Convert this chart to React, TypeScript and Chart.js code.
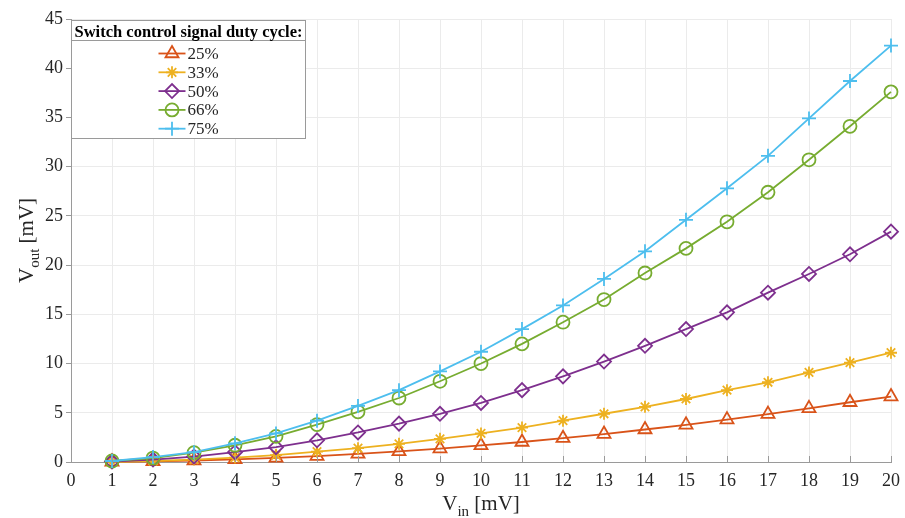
import React, { useEffect, useRef } from 'react';
import { Chart, registerables } from 'chart.js';
import { drawPoint } from 'chart.js/helpers';

Chart.register(...registerables);

const vin = [1, 2, 3, 4, 5, 6, 7, 8, 9, 10, 11, 12, 13, 14, 15, 16, 17, 18, 19, 20];
const duty25 = [0.01, 0.06, 0.15, 0.27, 0.42, 0.6, 0.82, 1.07, 1.36, 1.68, 2.03, 2.42, 2.84, 3.3, 3.78, 4.3, 4.86, 5.45, 6.07, 6.65];
const duty33 = [0.02, 0.1, 0.25, 0.45, 0.7, 1.05, 1.4, 1.85, 2.35, 2.9, 3.5, 4.2, 4.9, 5.6, 6.4, 7.3, 8.1, 9.1, 10.1, 11.1];
const duty50 = [0.05, 0.25, 0.55, 1.0, 1.5, 2.2, 3.0, 3.9, 4.9, 6.0, 7.3, 8.7, 10.2, 11.8, 13.5, 15.2, 17.2, 19.1, 21.1, 23.4];
const duty66 = [0.1, 0.4, 0.95, 1.7, 2.6, 3.8, 5.1, 6.5, 8.2, 10.0, 12.0, 14.2, 16.5, 19.2, 21.7, 24.4, 27.4, 30.7, 34.1, 37.6];
const duty75 = [0.1, 0.5, 1.0, 1.9, 2.9, 4.2, 5.7, 7.3, 9.2, 11.2, 13.5, 15.9, 18.6, 21.4, 24.6, 27.8, 31.1, 34.9, 38.7, 42.3];

const seriesValues = [duty25, duty33, duty50, duty66, duty75];
const seriesLabels = ['25%', '33%', '50%', '66%', '75%'];
const seriesColors = ['#D95319', '#EDB120', '#7E2F8E', '#77AC30', '#4DBEEE'];
const seriesMarkers = ['triangle', 'star', 'rectRot', 'circle', 'cross'];
const seriesMarkerSizes = [7.5, 6, 7, 6.5, 7];

const legendTitle = 'Switch control signal duty cycle:';
const xTitleMain = 'V';
const xTitleSub = 'in';
const yTitleMain = 'V';
const yTitleSub = 'out';
const titleUnit = ' [mV]';

const xMin = 0;
const xMax = 20;
const xStep = 1;
const yMin = 0;
const yMax = 45;
const yStep = 5;

const FONT = '"Liberation Serif", "Times New Roman", serif';
const TEXT = '#262626';
const AXIS = '#9a9a9a';
const GRID = '#ebebeb';

function drawSubTitle(ctx: CanvasRenderingContext2D, main: string, sub: string, rest: string, cx: number, baseline: number) {
  ctx.font = `21px ${FONT}`;
  const wMain = ctx.measureText(main).width;
  const wRest = ctx.measureText(rest).width;
  ctx.font = `15px ${FONT}`;
  const wSub = ctx.measureText(sub).width;
  const total = wMain + wSub + wRest;
  let x = cx - total / 2;
  ctx.textAlign = 'left';
  ctx.textBaseline = 'alphabetic';
  ctx.fillStyle = TEXT;
  ctx.font = `21px ${FONT}`;
  ctx.fillText(main, x, baseline);
  x += wMain;
  ctx.font = `15px ${FONT}`;
  ctx.fillText(sub, x, baseline + 6);
  x += wSub;
  ctx.font = `21px ${FONT}`;
  ctx.fillText(rest, x, baseline);
}

const decorPlugin = {
  id: 'decor',
  afterDraw(chart: any) {
    const ctx: CanvasRenderingContext2D = chart.ctx;
    const { left, right, top, bottom } = chart.chartArea;
    const xs = chart.scales.x;
    ctx.save();
    // inward x ticks
    ctx.strokeStyle = AXIS;
    ctx.lineWidth = 1;
    for (let v = xMin; v <= xMax; v += xStep) {
      const px = Math.round(xs.getPixelForValue(v)) + 0.5;
      ctx.beginPath();
      ctx.moveTo(px, bottom);
      ctx.lineTo(px, bottom - 6);
      ctx.stroke();
    }
    // axis titles
    drawSubTitle(ctx, xTitleMain, xTitleSub, titleUnit, (left + right) / 2, 510);
    ctx.save();
    ctx.translate(33, (top + bottom) / 2);
    ctx.rotate(-Math.PI / 2);
    drawSubTitle(ctx, yTitleMain, yTitleSub, titleUnit, 0, 0);
    ctx.restore();

    // legend
    const x0 = left + 0.5;
    const y0 = top + 1.5;
    const w = 234;
    const h = 118;
    ctx.fillStyle = '#ffffff';
    ctx.fillRect(x0, y0, w, h);
    ctx.strokeStyle = AXIS;
    ctx.lineWidth = 1;
    ctx.strokeRect(x0, y0, w, h);
    ctx.beginPath();
    ctx.moveTo(x0, y0 + 20);
    ctx.lineTo(x0 + w, y0 + 20);
    ctx.stroke();
    ctx.fillStyle = '#000';
    ctx.font = `bold 16.5px ${FONT}`;
    ctx.textAlign = 'center';
    ctx.textBaseline = 'alphabetic';
    ctx.fillText(legendTitle, x0 + w / 2, y0 + 16);
    for (let i = 0; i < seriesLabels.length; i++) {
      const cy = y0 + 33 + i * 18.8;
      const lx0 = x0 + 87;
      const lx1 = x0 + 114;
      ctx.strokeStyle = seriesColors[i];
      ctx.lineWidth = 1.8;
      ctx.beginPath();
      ctx.moveTo(lx0, cy);
      ctx.lineTo(lx1, cy);
      ctx.stroke();
      ctx.fillStyle = 'rgba(0,0,0,0)';
      ctx.strokeStyle = seriesColors[i];
      drawPoint(ctx, {
        pointStyle: seriesMarkers[i] as any,
        radius: seriesMarkerSizes[i],
        rotation: 0,
        borderWidth: 1.8,
      } as any, (lx0 + lx1) / 2, cy);
      ctx.fillStyle = TEXT;
      ctx.font = `17px ${FONT}`;
      ctx.textAlign = 'left';
      ctx.textBaseline = 'middle';
      ctx.fillText(seriesLabels[i], lx1 + 2, cy + 1);
    }
    ctx.restore();
  },
};

export default function App() {
  const ref = useRef<HTMLCanvasElement | null>(null);
  useEffect(() => {
    if (!ref.current) return;
    const datasets = seriesValues.map((vals, i) => ({
      label: seriesLabels[i],
      data: vals.map((y, j) => ({ x: vin[j], y })),
      borderColor: seriesColors[i],
      backgroundColor: 'rgba(0,0,0,0)',
      borderWidth: 1.8,
      pointStyle: seriesMarkers[i],
      pointRadius: seriesMarkerSizes[i],
      pointBorderColor: seriesColors[i],
      pointBackgroundColor: 'rgba(0,0,0,0)',
      pointBorderWidth: 1.8,
      tension: 0,
      fill: false,
      order: seriesLabels.length - 1 - i,
      clip: false as any,
    }));
    const chart = new Chart(ref.current, {
      type: 'line',
      data: { datasets },
      options: {
        animation: false,
        responsive: false,
        layout: { padding: { left: 0, right: 14, top: 19, bottom: 0 } },
        plugins: { legend: { display: false }, tooltip: { enabled: false } },
        scales: {
          x: {
            type: 'linear',
            min: xMin,
            max: xMax,
            afterFit: (s: any) => { s.height = 56; s.paddingRight = 0; s.paddingLeft = 0; },
            ticks: { stepSize: xStep, color: TEXT, font: { family: FONT, size: 18 }, padding: 8, maxRotation: 0 },
            grid: { color: GRID, drawTicks: false, lineWidth: 1 },
            border: { color: AXIS, width: 1 },
          },
          y: {
            type: 'linear',
            min: yMin,
            max: yMax,
            afterFit: (s: any) => { s.width = 71; s.paddingTop = 0; s.paddingBottom = 0; },
            ticks: { stepSize: yStep, color: TEXT, font: { family: FONT, size: 18 }, padding: 3 },
            grid: { color: GRID, drawTicks: true, tickLength: 5, tickColor: AXIS, lineWidth: 1 },
            border: { color: AXIS, width: 1 },
          },
        },
      },
      plugins: [decorPlugin],
    });
    return () => chart.destroy();
  }, []);
  return (
    <canvas
      ref={ref}
      width={905}
      height={518}
      style={{ position: 'absolute', left: 0, top: 0, width: 905, height: 518, background: '#fff' }}
    />
  );
}
